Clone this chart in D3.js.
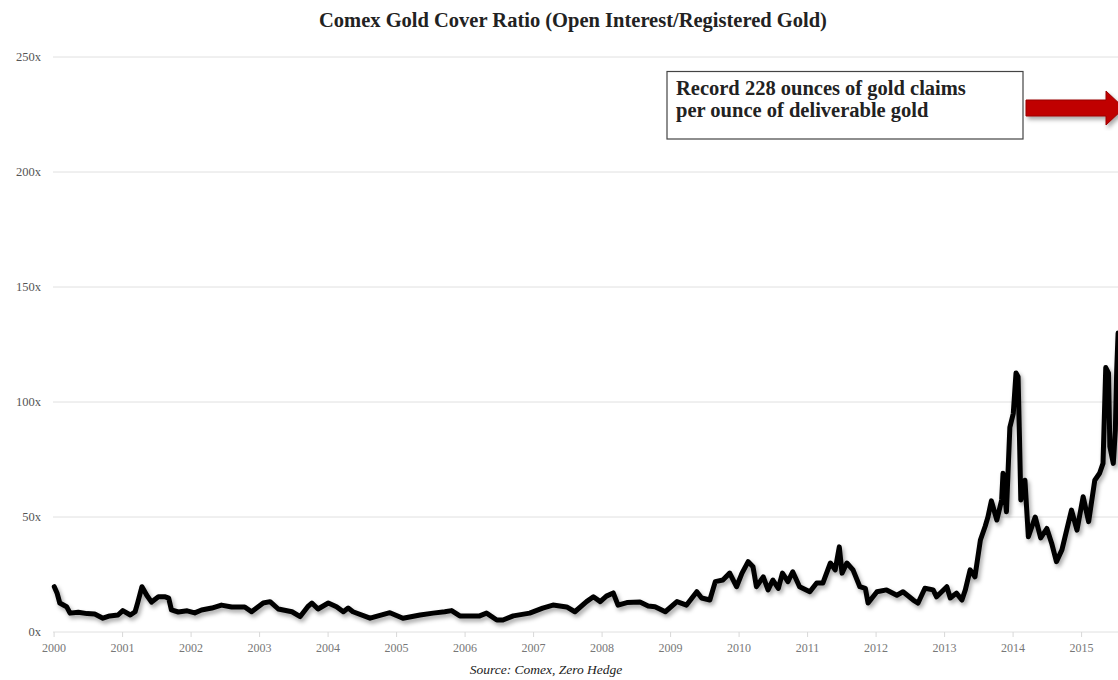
<!DOCTYPE html>
<html>
<head>
<meta charset="utf-8">
<script src="https://cdn.jsdelivr.net/npm/d3@7"></script>
<style>
  html, body { margin: 0; padding: 0; background: #fff; }
  svg { display: block; }
</style>
</head>
<body>
<svg id="chart" width="1118" height="680"></svg>
<script>
// ---- Data ----
const title = "Comex Gold Cover Ratio (Open Interest/Registered Gold)";
const sourceText = "Source: Comex, Zero Hedge";
const annotationLines = ["Record 228 ounces of gold claims", "per ounce of deliverable gold"];
const yTicks = [0, 50, 100, 150, 200, 250];
const xTickYears = [2000, 2001, 2002, 2003, 2004, 2005, 2006, 2007, 2008, 2009, 2010, 2011, 2012, 2013, 2014, 2015];

// decimal-year dates and cover ratio values
const dates = [
  2000.01, 2000.05, 2000.09, 2000.19, 2000.24, 2000.36, 2000.49, 2000.60, 2000.72, 2000.82, 2000.94,
  2001.01, 2001.12, 2001.19, 2001.23, 2001.29, 2001.36, 2001.43, 2001.53, 2001.63, 2001.68, 2001.72, 2001.82, 2001.95,
  2002.06, 2002.16, 2002.31, 2002.45, 2002.60, 2002.79, 2002.89,
  2003.06, 2003.16, 2003.28, 2003.48, 2003.60, 2003.71, 2003.77, 2003.86,
  2004.01, 2004.13, 2004.23, 2004.30, 2004.37, 2004.62, 2004.91,
  2005.10, 2005.35, 2005.54, 2005.71, 2005.81, 2005.93,
  2006.22, 2006.32, 2006.47, 2006.56, 2006.71, 2006.95,
  2007.14, 2007.29, 2007.49, 2007.61, 2007.78, 2007.88, 2007.98,
  2008.07, 2008.17, 2008.24, 2008.37, 2008.56, 2008.68, 2008.78, 2008.93,
  2009.10, 2009.24, 2009.39, 2009.46, 2009.58, 2009.66, 2009.77, 2009.87, 2009.97,
  2010.05, 2010.14, 2010.21, 2010.26, 2010.36, 2010.43, 2010.50, 2010.58, 2010.64, 2010.72, 2010.79, 2010.89,
  2011.04, 2011.14, 2011.23, 2011.34, 2011.41, 2011.47, 2011.51, 2011.58, 2011.67, 2011.77, 2011.85, 2011.89,
  2012.02, 2012.16, 2012.31, 2012.40, 2012.55, 2012.62, 2012.72, 2012.84, 2012.89,
  2013.04, 2013.09, 2013.18, 2013.26, 2013.31, 2013.38, 2013.45, 2013.53, 2013.60, 2013.64, 2013.69, 2013.77, 2013.84, 2013.86, 2013.91, 2013.96,
  2014.01, 2014.05, 2014.08, 2014.10, 2014.12, 2014.18, 2014.23, 2014.33, 2014.41, 2014.50, 2014.57, 2014.64, 2014.72, 2014.86, 2014.94,
  2015.03, 2015.11, 2015.20, 2015.27, 2015.32, 2015.36, 2015.40, 2015.42, 2015.47, 2015.50, 2015.52, 2015.54
];
const ratio = [
  19.7, 17, 12.6, 11, 8.2, 8.6, 8.0, 7.8, 6, 7.0, 7.4,
  9.3, 7.4, 8.8, 13, 19.7, 16, 13, 15.3, 15.3, 14.7, 9.6, 8.7, 9.2,
  8.3, 9.6, 10.4, 11.7, 10.9, 10.9, 8.8,
  12.6, 13.2, 10, 8.8, 6.7, 11, 12.6, 10,
  12.6, 11, 8.8, 10.4, 8.8, 6, 8.4,
  6, 7.4, 8.2, 8.8, 9.3, 7,
  7, 8.2, 5.2, 5.2, 7, 8.2,
  10.4, 11.7, 10.9, 8.8, 13.2, 15.3, 13.2,
  15.6, 17, 11.7, 12.8, 13, 11.3, 11, 8.8,
  13.2, 11.7, 17.5, 14.8, 13.9, 21.9, 22.6, 25.6, 19.7,
  25.6, 30.6, 28.4, 19.7, 24, 18.3, 22.6, 19, 25.6, 21.9, 26.2, 19.7,
  17.5, 21.3, 21.3, 30, 27, 37, 25.6, 30, 27, 19.7, 19, 12.6,
  17.5, 18.3, 16, 17.5, 13.9, 12.6, 19, 18.3, 15.3,
  19.7, 14.8, 16.9, 13.9, 18.3, 27, 24, 40, 46, 50, 57, 48.7, 57.4, 69, 52.3, 89,
  95, 112.6, 111, 85, 57.4, 66, 41.4, 50, 40.9, 45, 38.6, 30.6, 35.7, 53, 44.3,
  58.8, 48, 66, 69, 73.3, 115, 112.6, 80.6, 73.3, 87.8, 114, 130
];

// ---- Chart ----
const W = 1118, H = 680;
const svg = d3.select("#chart");
const serif = "'Liberation Serif', 'DejaVu Serif', serif";

const x = d3.scaleLinear().domain([2000, 2016]).range([53.6, 53.6 + 68.5 * 16]);
const y = d3.scaleLinear().domain([0, 250]).range([632, 57]);

const defs = svg.append("defs");
const f = defs.append("filter").attr("id", "shadow").attr("x", "-5%").attr("y", "-5%").attr("width", "110%").attr("height", "120%");
f.append("feDropShadow").attr("dx", 2).attr("dy", 3).attr("stdDeviation", 2)
  .attr("flood-color", "#000").attr("flood-opacity", 0.35);

// gridlines
svg.append("g").selectAll("line").data(yTicks).join("line")
  .attr("x1", 53).attr("x2", W)
  .attr("y1", d => y(d)).attr("y2", d => y(d))
  .attr("stroke", "#e0e0e0").attr("stroke-width", 1);

// y labels
svg.append("g").selectAll("text").data(yTicks).join("text")
  .attr("x", 41).attr("y", d => y(d) + 4)
  .attr("text-anchor", "end")
  .attr("font-family", serif).attr("font-size", 12.5)
  .attr("fill", "#555")
  .text(d => d + "x");

// x axis
const xAxis = d3.axisBottom(x).tickValues(xTickYears).tickFormat(d3.format("d")).tickSize(5).tickPadding(6);
const gx = svg.append("g").attr("transform", `translate(0,${y(0)})`).call(xAxis);
gx.select(".domain").remove();
gx.selectAll(".tick line").attr("stroke", "#d8d8d8");
gx.selectAll(".tick text").attr("font-family", serif).attr("font-size", 12).attr("fill", "#777");

// line
const line = d3.line().x((d, i) => x(dates[i])).y(d => y(d)).curve(d3.curveLinear);
svg.append("path").datum(ratio)
  .attr("d", line)
  .attr("fill", "none")
  .attr("stroke", "#000")
  .attr("stroke-width", 5)
  .attr("stroke-linejoin", "round")
  .attr("stroke-linecap", "round")
  .attr("filter", "url(#shadow)");

// title
svg.append("text")
  .attr("x", 573).attr("y", 27)
  .attr("text-anchor", "middle")
  .attr("font-family", serif).attr("font-weight", "bold").attr("font-size", 20.5)
  .attr("fill", "#222")
  .text(title);

// annotation box
const box = svg.append("g");
box.append("rect").attr("x", 667).attr("y", 71.5).attr("width", 356).attr("height", 67.5)
  .attr("fill", "#fff").attr("stroke", "#444").attr("stroke-width", 1.2);
box.selectAll("text").data(annotationLines).join("text")
  .attr("x", 676).attr("y", (d, i) => 95 + i * 22)
  .attr("font-family", serif).attr("font-weight", "bold").attr("font-size", 20.5)
  .attr("fill", "#222")
  .text(d => d);

// arrow
svg.append("path")
  .attr("d", "M1026,100 L1106,100 L1106,91 L1124,108 L1106,125 L1106,116 L1026,116 Z")
  .attr("fill", "#c00000").attr("stroke", "#9a0000").attr("stroke-width", 1)
  .attr("filter", "url(#shadow)");

// source
svg.append("text")
  .attr("x", 546).attr("y", 674)
  .attr("text-anchor", "middle")
  .attr("font-family", serif).attr("font-style", "italic").attr("font-size", 13.5)
  .attr("fill", "#222")
  .text(sourceText);
</script>
</body>
</html>
